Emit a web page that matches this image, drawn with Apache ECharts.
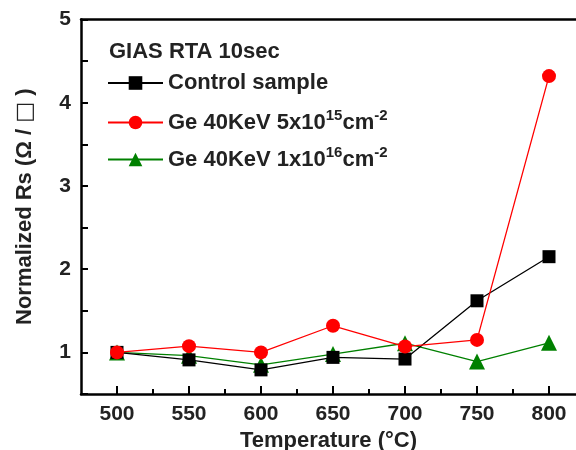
<!DOCTYPE html>
<html><head><meta charset="utf-8">
<script src="https://cdn.jsdelivr.net/npm/echarts@6/dist/echarts.min.js"></script>
<style>html,body{margin:0;padding:0;background:#fff}#c{width:576px;height:450px}</style>
</head><body><div id="c"></div>
<script>
const temps = [500, 550, 600, 650, 700, 750, 800];
const controlRs = [1.0, 0.91, 0.79, 0.94, 0.92, 1.62, 2.15];
const ge5e15Rs = [1.0, 1.075, 1.0, 1.32, 1.07, 1.15, 4.32];
const ge1e16Rs = [1.0, 0.96, 0.85, 0.98, 1.11, 0.89, 1.115];
const xTickLabels = [500, 550, 600, 650, 700, 750, 800];
const xMinorTicks = [525, 575, 625, 675, 725, 775];
const yTickLabels = [1, 2, 3, 4, 5];
const yTicks = [0.5, 1, 1.5, 2, 2.5, 3, 3.5, 4, 4.5, 5];
const names = ['Control sample', 'Ge 40KeV 5x10^15cm^-2', 'Ge 40KeV 1x10^16cm^-2'];

const font = 'Liberation Sans, Arial, sans-serif';
const txt = '#222';
const pair = (xs, ys) => xs.map((x, i) => [x, ys[i]]);
const chart = echarts.init(document.getElementById('c'));
const axisLineStyle = {color: '#000', width: 2.5};
const legendText = {fontFamily: font, fontWeight: 'bold', fontSize: 22, color: txt,
  rich: {
    n: {fontFamily: font, fontWeight: 'bold', fontSize: 22, color: txt, lineHeight: 26},
    s: {fontFamily: font, fontWeight: 'bold', fontSize: 15, color: txt, lineHeight: 26, padding: [0, 0, 14, 0]}
  }};
const fmt = function (name) {
  if (name === names[0]) return '{n|Control sample}';
  if (name === names[1]) return '{n|Ge 40KeV 5x10}{s|15}{n|cm}{s|-2}';
  return '{n|Ge 40KeV 1x10}{s|16}{n|cm}{s|-2}';
};
const mkLegend = (i, top) => ({
  orient: 'vertical', left: 107, top: top, padding: 0, itemWidth: 55, itemHeight: 17, itemGap: 0,
  data: [names[i]], textStyle: legendText, formatter: fmt
});
chart.setOption({
  animation: false,
  title: {text: 'GIAS RTA 10sec', left: 109, top: 41, padding: 0,
    textStyle: {fontFamily: font, fontWeight: 'bold', fontSize: 22, color: txt}},
  legend: [mkLegend(0, 72), mkLegend(1, 108), mkLegend(2, 145)],
  grid: {left: 81, top: 19.5, right: 0, bottom: 56, outerBoundsMode: 'none', containLabel: false},
  xAxis: [{
    type: 'value', min: 475, max: 818.75, position: 'bottom',
    name: 'Temperature (°C)', nameLocation: 'middle', nameGap: 31,
    nameTextStyle: {fontFamily: font, fontWeight: 'bold', fontSize: 22, color: txt},
    axisLine: {lineStyle: axisLineStyle},
    axisTick: {inside: true, length: 8, lineStyle: {color: '#000', width: 2}, customValues: xTickLabels},
    axisLabel: {customValues: xTickLabels, margin: 10,
      fontFamily: font, fontWeight: 'bold', fontSize: 21, color: txt},
    splitLine: {show: false}
  }, {
    type: 'value', min: 475, max: 818.75, position: 'bottom',
    axisLine: {show: false},
    axisTick: {inside: true, length: 5, lineStyle: {color: '#000', width: 2}, customValues: xMinorTicks},
    axisLabel: {show: false}, splitLine: {show: false}
  }, {
    type: 'value', min: 475, max: 818.75, position: 'top',
    axisLine: {lineStyle: axisLineStyle}, axisTick: {show: false}, axisLabel: {show: false}, splitLine: {show: false}
  }],
  yAxis: {
    type: 'value', min: 0.5, max: 5,
    name: '{a|Normalized Rs (Ω / }{b|□}{a| )}', nameLocation: 'middle', nameGap: 45,
    nameTextStyle: {fontFamily: font, fontWeight: 'bold', fontSize: 22, color: txt,
      rich: {
        a: {fontFamily: font, fontWeight: 'bold', fontSize: 22, color: txt},
        b: {fontFamily: 'DejaVu Sans, sans-serif', fontSize: 22, color: txt}
      }},
    axisLine: {lineStyle: axisLineStyle},
    axisTick: {inside: true, length: 7, lineStyle: {color: '#000', width: 2}, customValues: yTicks},
    axisLabel: {customValues: yTickLabels, margin: 10,
      fontFamily: font, fontWeight: 'bold', fontSize: 21, color: txt},
    splitLine: {show: false}
  },
  series: [
    {name: names[0], type: 'line', data: pair(temps, controlRs), symbol: 'rect', symbolSize: 13,
      lineStyle: {color: '#000', width: 1.3}, itemStyle: {color: '#000'}, z: 3},
    {name: names[1], type: 'line', data: pair(temps, ge5e15Rs), symbol: 'circle', symbolSize: 14,
      lineStyle: {color: '#ff0000', width: 1.3}, itemStyle: {color: '#ff0000'}, z: 4},
    {name: names[2], type: 'line', data: pair(temps, ge1e16Rs), symbol: 'triangle', symbolSize: 16,
      lineStyle: {color: '#008000', width: 1.3}, itemStyle: {color: '#008000'}, z: 2}
  ]
});
</script></body></html>
